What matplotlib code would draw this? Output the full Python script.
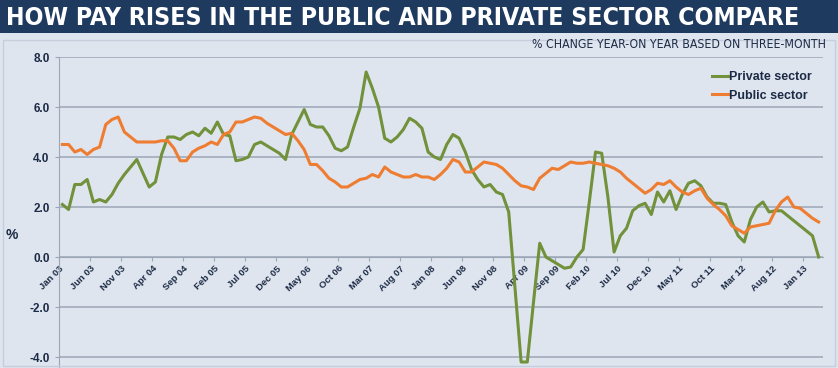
import matplotlib
matplotlib.use("Agg")
import matplotlib.pyplot as plt
import matplotlib.patches as patches
from matplotlib import font_manager
import numpy as np

# monthly data, Jan 03 -> Mar 13
private_sector = [2.1, 1.9, 2.9, 2.9, 3.1, 2.2, 2.3, 2.2, 2.5, 2.95, 3.3, 3.6, 3.9, 3.35, 2.8, 3.0, 4.1, 4.8, 4.8, 4.7, 4.9, 5.0,
                  4.85, 5.15, 4.95, 5.4, 4.9, 4.85, 3.85, 3.9, 4.0, 4.5, 4.6, 4.45, 4.3, 4.15, 3.9, 4.9, 5.4, 5.9, 5.3, 5.2, 5.2, 4.85,
                  4.35, 4.25, 4.4, 5.2, 5.95, 7.4, 6.75, 6.0, 4.75, 4.6, 4.8, 5.1, 5.55, 5.4, 5.15, 4.2, 4.0, 3.9, 4.5, 4.9, 4.75, 4.2,
                  3.5, 3.1, 2.8, 2.9, 2.6, 2.5, 1.8, -1.2, -4.2, -4.2, -1.8, 0.55, 0.0, -0.15, -0.3, -0.45, -0.4, 0.0, 0.3, 2.2,
                  4.2, 4.15, 2.4, 0.2, 0.85, 1.15, 1.85, 2.05, 2.15, 1.7, 2.6, 2.2, 2.65, 1.9, 2.5, 2.95, 3.05, 2.85, 2.4, 2.15,
                  2.15, 2.1, 1.4, 0.85, 0.6, 1.5, 2.0, 2.2, 1.8, 1.85, 1.85, 1.65, 1.45, 1.25, 1.05, 0.85, 0.0]

public_sector = [4.5, 4.5, 4.2, 4.3, 4.1, 4.3, 4.4, 5.3, 5.5, 5.6, 5.0, 4.8, 4.6, 4.6, 4.6, 4.6, 4.65, 4.65, 4.35, 3.85, 3.85, 4.2,
                 4.35, 4.45, 4.6, 4.5, 4.9, 5.0, 5.4, 5.4, 5.5, 5.6, 5.55, 5.35, 5.2, 5.05, 4.9, 4.95, 4.65, 4.3, 3.7, 3.7, 3.45, 3.15,
                 3.0, 2.8, 2.8, 2.95, 3.1, 3.15, 3.3, 3.2, 3.6, 3.4, 3.3, 3.2, 3.2, 3.3, 3.2, 3.2, 3.1, 3.3, 3.55, 3.9, 3.8, 3.4,
                 3.4, 3.6, 3.8, 3.75, 3.7, 3.55, 3.3, 3.05, 2.85, 2.8, 2.7, 3.15, 3.35, 3.55, 3.5, 3.65, 3.8, 3.75, 3.75, 3.8, 3.75,
                 3.7, 3.65, 3.55, 3.4, 3.15, 2.95, 2.75, 2.55, 2.7, 2.95, 2.9, 3.05, 2.8, 2.6, 2.5, 2.65, 2.75, 2.35, 2.1, 1.9,
                 1.65, 1.25, 1.1, 0.95, 1.2, 1.25, 1.3, 1.35, 1.85, 2.2, 2.4, 2.0, 1.95, 1.75, 1.55, 1.4]

# one label every 5 months
date_labels = ["Jan 03", "Jun 03", "Nov 03", "Apr 04", "Sep 04", "Feb 05", "Jul 05", "Dec 05", "May 06",
               "Oct 06", "Mar 07", "Aug 07", "Jan 08", "Jun 08", "Nov 08", "Apr 09", "Sep 09", "Feb 10",
               "Jul 10", "Dec 10", "May 11", "Oct 11", "Mar 12", "Aug 12", "Jan 13"]
y_ticks = [-4.0, -2.0, 0.0, 2.0, 4.0, 6.0, 8.0]

bg = "#dfe5ef"
navy = "#1f3a5f"
text_col = "#1c2b45"
grid_col = "#9ba6b6"
green = "#71913a"
orange = "#ee7d31"
sans = ["Liberation Sans", "DejaVu Sans"]


# look for a condensed face for the headline (falls back to Roboto)
def condensed_font(bold):
    found = []
    for f in font_manager.fontManager.ttflist:
        n = (f.name + " " + f.fname).lower()
        if ("condensed" in n or "narrow" in n) and "extra" not in n and "semi" not in n:
            is_bold = (f.weight in ("bold", 700)) or ("bold" in f.fname.lower() and "semibold" not in f.fname.lower()
                                                       and "extrabold" not in f.fname.lower())
            italic = "italic" in f.fname.lower() or f.style != "normal"
            if is_bold == bold and not italic:
                found.append(f.fname)
    if found:
        found.sort()
        return font_manager.FontProperties(fname=found[0])
    return font_manager.FontProperties(family=["Roboto", "DejaVu Sans"], weight="bold" if bold else "normal")


# shrink / grow a text so it spans a given width in pixels
def fit_width(fig, txt, width_px):
    fig.canvas.draw()
    w = txt.get_window_extent().width
    txt.set_fontsize(txt.get_fontsize() * width_px / w)


fig = plt.figure(figsize=(8.38, 3.68), dpi=100, facecolor=bg)

# title bar
fig.patches.append(patches.Rectangle((0, 1 - 33 / 368), 1, 33 / 368, transform=fig.transFigure,
                                     facecolor=navy, edgecolor="none", zorder=0))
# light panel border
fig.patches.append(patches.Rectangle((3 / 838, 2 / 368), 832 / 838, 326 / 368, transform=fig.transFigure,
                                     facecolor="none", edgecolor="#c5cedb", linewidth=1, zorder=0))

title_font = condensed_font(True)
title_font.set_size(18)
title = fig.text(6 / 838, 1 - 18 / 368, "HOW PAY RISES IN THE PUBLIC AND PRIVATE SECTOR COMPARE",
                 color="white", fontproperties=title_font, va="center", ha="left")

sub_font = condensed_font(False)
sub_font.set_size(7.5)
subtitle = fig.text(826 / 838, 1 - 45 / 368, "% CHANGE YEAR-ON YEAR BASED ON THREE-MONTH",
                    color=text_col, fontproperties=sub_font, va="center", ha="right")

ax = fig.add_axes([59.3 / 838, 0.0, (823 - 59.3) / 838, 311 / 368])
ax.set_facecolor("none")

x = np.arange(len(private_sector))
ax.plot(x, private_sector, color=green, linewidth=2.2, label="Private sector", zorder=3)
ax.plot(x, public_sector, color=orange, linewidth=2.2, label="Public sector", zorder=3)

ax.set_xlim(-0.5, 122.7)
ax.set_ylim(-4.44, 8.0)

# horizontal grid
ax.set_yticks(y_ticks)
ax.set_yticklabels(["%.1f" % v for v in y_ticks], fontsize=8.5, fontweight="bold", color=text_col, family=sans)
ax.yaxis.grid(True, color=grid_col, linewidth=1.1)
ax.set_axisbelow(True)
ax.tick_params(axis="y", length=3, color=grid_col, pad=4)

# category axis crosses at 0
ax.spines["bottom"].set_position(("data", 0))
ax.spines["bottom"].set_color(grid_col)
ax.spines["left"].set_color(grid_col)
ax.spines["top"].set_visible(False)
ax.spines["right"].set_visible(False)

ax.set_xticks(np.arange(len(date_labels)) * 5 - 0.5)
ax.set_xticklabels(date_labels, rotation=45, ha="right", va="top", rotation_mode="anchor",
                   fontsize=6.8, fontweight="bold", color=text_col, family=sans)
ax.tick_params(axis="x", length=3, color=grid_col, pad=2)

fig.text(12 / 838, 1 - 235 / 368, "%", fontsize=10, fontweight="bold", color=text_col,
         family=sans, ha="center", va="center")

leg = ax.legend(loc="upper right", bbox_to_anchor=(1.0, 0.99), frameon=False, handlelength=1.3,
                handletextpad=0.1, labelspacing=0.5,
                prop={"family": sans, "weight": "bold", "size": 9})
for t in leg.get_texts():
    t.set_color(text_col)

fit_width(fig, title, 792)
fit_width(fig, subtitle, 290)

fig.savefig("out.png", dpi=100, facecolor=bg)
